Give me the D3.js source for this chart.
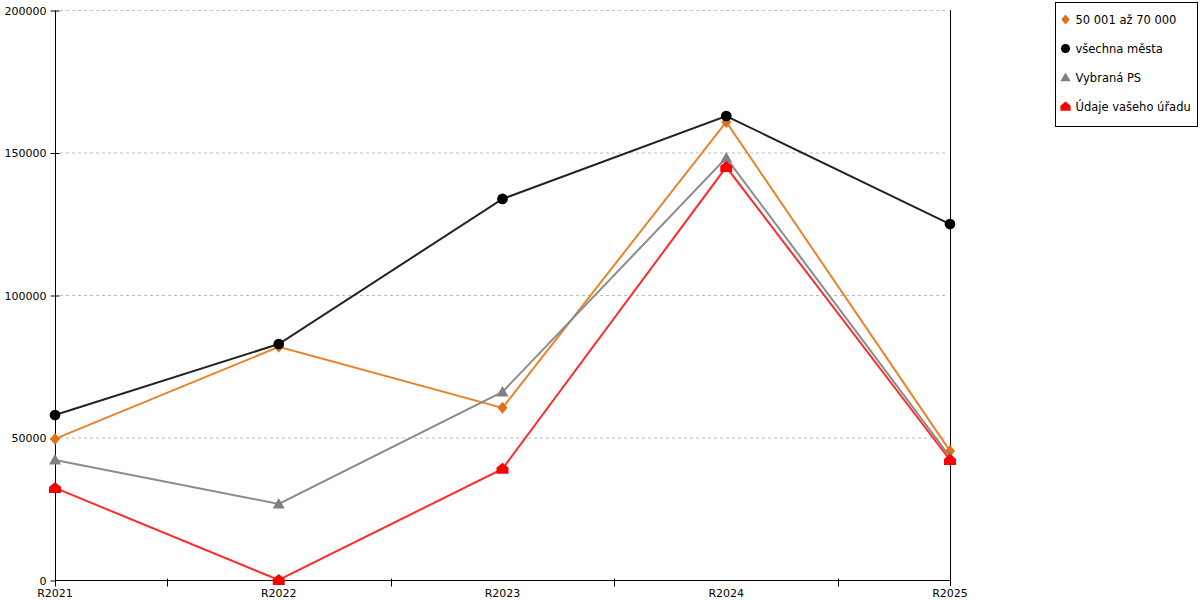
<!DOCTYPE html>
<html>
<head>
<meta charset="utf-8">
<script src="https://cdn.jsdelivr.net/npm/d3@7"></script>
<style>
  body { margin: 0; background: #fff; }
  svg { font-family: "DejaVu Sans", Verdana, sans-serif; }
</style>
</head>
<body>
<svg id="chart" width="1200" height="600"></svg>
<script>
// data
const years = ['R2021', 'R2022', 'R2023', 'R2024', 'R2025'];
const yTicks = [0, 50000, 100000, 150000, 200000];

const seriesNames = ['50 001 až 70 000', 'všechna města', 'Vybraná PS', 'Údaje vašeho úřadu'];
const valsOrange = [49500, 81800, 60400, 160700, 45300];
const valsBlack  = [57900, 82800, 133700, 162800, 124900];
const valsGray   = [42100, 26700, 66000, 148100, 43200];
const valsRed    = [32300, 0, 39000, 144900, 42100];

const series = [
  { name: seriesNames[0], values: valsOrange, line: '#e8832a', fill: '#e07018', shape: 'diamond' },
  { name: seriesNames[1], values: valsBlack,  line: '#222222', fill: '#000000', shape: 'circle' },
  { name: seriesNames[2], values: valsGray,   line: '#8c8c8c', fill: '#808080', shape: 'triangle' },
  { name: seriesNames[3], values: valsRed,    line: '#ff2a2a', fill: '#ff0000', shape: 'house' }
];

const svg = d3.select('#chart');
const pLeft = 55, pRight = 950, pTop = 10, pBottom = 580;

const x = d3.scalePoint(years, [pLeft, pRight]);
const y = d3.scaleLinear([0, 200000], [pBottom, pTop]);

// markers
function markerPath (shape) {
  if (shape === 'diamond') return 'M0,-6L5,0L0,6L-5,0Z';
  if (shape === 'triangle') return 'M0,-6L6,4.5L-6,4.5Z';
  if (shape === 'house') return 'M0,-6L6,-1L6,5L-6,5L-6,-1Z';
  return d3.symbol(d3.symbolCircle, 90)();
}

// grid
svg.append('g')
   .selectAll('line')
   .data(yTicks.filter(d => d > 0))
   .join('line')
     .attr('x1', pLeft + 5).attr('x2', pRight - 5)
     .attr('y1', d => y(d) + 0.5).attr('y2', d => y(d) + 0.5)
     .attr('stroke', '#bbb')
     .attr('stroke-dasharray', '3,3');

// y axis
const yAxis = svg.append('g')
   .attr('transform', `translate(${pLeft + 0.5},0.5)`)
   .call(d3.axisLeft(y).tickValues(yTicks).tickSize(5).tickPadding(4).tickFormat(d3.format('d')));
yAxis.selectAll('.tick line').attr('x2', -5).attr('x1', 4);
yAxis.select('.domain').attr('d', `M0,${pTop}V${pBottom}`);
yAxis.selectAll('text').attr('font-size', 11).attr('fill', '#000').attr('font-family', 'DejaVu Sans');
yAxis.selectAll('line, path').attr('stroke', '#000');
yAxis.selectAll('.tick').filter(d => d === 0).select('line').attr('x1', 0);

// right border line
svg.append('line')
   .attr('x1', pRight + 0.5).attr('x2', pRight + 0.5)
   .attr('y1', pTop).attr('y2', pBottom + 6)
   .attr('stroke', '#000');

// x axis: ticks between categories, labels at categories
const step = x.step();
const xAxisG = svg.append('g').attr('transform', `translate(0,${pBottom + 0.5})`);
xAxisG.append('line')
   .attr('x1', pLeft).attr('x2', pRight)
   .attr('stroke', '#000');
xAxisG.selectAll('line.tk')
   .data(years.slice(1))
   .join('line')
     .attr('class', 'tk')
     .attr('x1', d => Math.round(x(d) - step / 2) + 0.5)
     .attr('x2', d => Math.round(x(d) - step / 2) + 0.5)
     .attr('y1', -2).attr('y2', 6)
     .attr('stroke', '#000');
xAxisG.append('line')
   .attr('x1', pLeft + 0.5).attr('x2', pLeft + 0.5)
   .attr('y1', 0).attr('y2', 6)
   .attr('stroke', '#000');
xAxisG.selectAll('text')
   .data(years)
   .join('text')
     .attr('x', d => x(d))
     .attr('y', 16.5)
     .attr('text-anchor', 'middle')
     .attr('font-size', 11)
     .text(d => d);

// lines
const line = d3.line().x((d, i) => x(years[i])).y(d => y(d));
svg.append('g')
   .selectAll('path')
   .data(series)
   .join('path')
     .attr('d', s => line(s.values))
     .attr('fill', 'none')
     .attr('stroke', s => s.line)
     .attr('stroke-width', 2);

// points
series.forEach(s => {
  svg.append('g')
     .selectAll('path')
     .data(s.values)
     .join('path')
       .attr('transform', (d, i) => `translate(${x(years[i])},${y(d)})`)
       .attr('d', markerPath(s.shape))
       .attr('fill', s.fill);
});

// legend
const lg = svg.append('g').attr('transform', 'translate(1055.5,2.5)');
lg.append('rect')
  .attr('width', 142).attr('height', 124)
  .attr('fill', '#fff').attr('stroke', '#000');
const item = lg.selectAll('g.item')
  .data(series)
  .join('g')
    .attr('class', 'item')
    .attr('transform', (d, i) => `translate(10,${17 + i * 29})`);
item.append('path')
    .attr('d', d => markerPath(d.shape))
    .attr('transform', 'scale(0.85)')
    .attr('fill', d => d.fill);
item.append('text')
    .attr('x', 10)
    .attr('dy', '0.35em')
    .attr('font-size', 11.5)
    .text(d => d.name);
</script>
</body>
</html>
